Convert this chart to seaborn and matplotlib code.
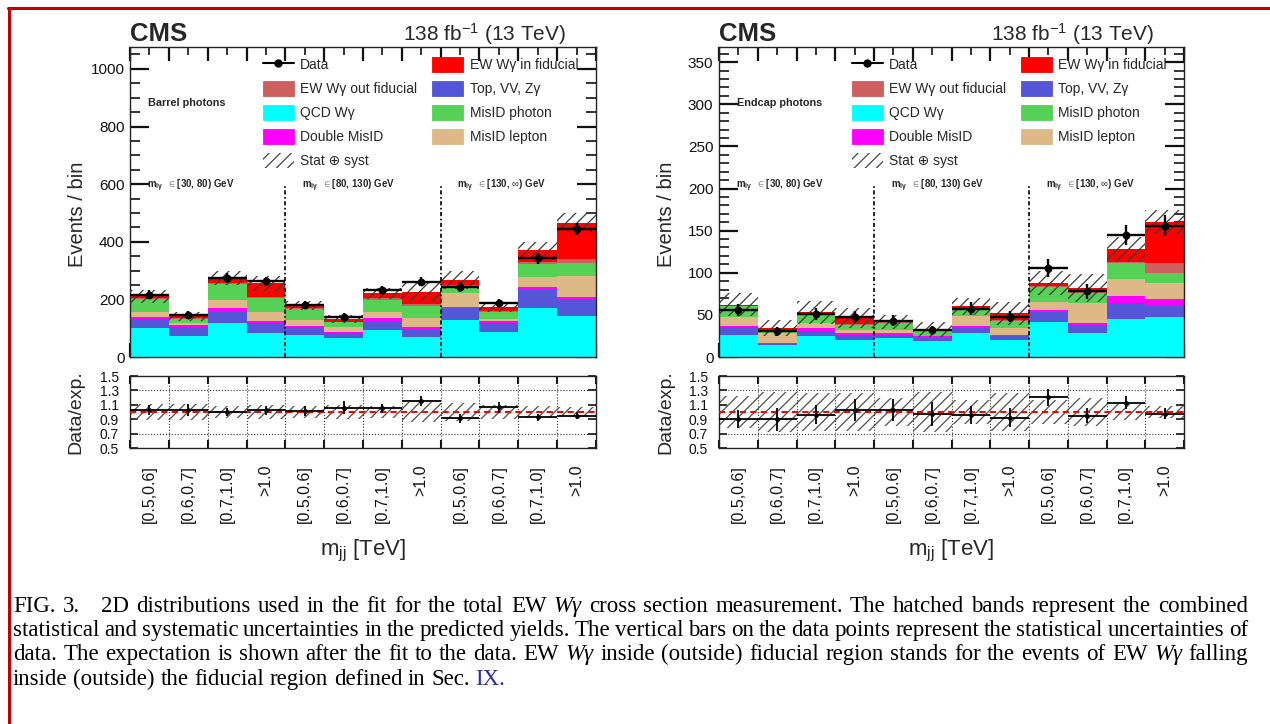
import numpy as np
import pandas as pd
import matplotlib
matplotlib.use("Agg")
import matplotlib.pyplot as plt
import matplotlib.transforms as mtransforms
from matplotlib.lines import Line2D
from matplotlib.patches import Patch
from matplotlib.ticker import MultipleLocator
import seaborn as sns

# ---------------------------------------------------------------- bins
mjj_labels = ["[0.5,0.6]", "[0.6,0.7]", "[0.7,1.0]", ">1.0"] * 3
mlg_ranges = [r"$\in$[30, 80) GeV", r"$\in$[80, 130) GeV", r"$\in$[130, $\infty$) GeV"]

# processes, listed from the top of the stack down
processes = ["EW Wγ in fiducial", "EW Wγ out fiducial", "MisID photon",
             "MisID lepton", "Double MisID", "Top, VV, Zγ", "QCD Wγ"]
proc_colors = ["#ff0000", "#cd5f5f", "#55d155", "#deb887",
               "#ff00ff", "#5555d8", "#00ffff"]

# ------------------------------------------------------- barrel photons
barrel_ew_in = [6, 7, 15, 47, 7, 8, 17, 44, 17, 14, 42, 127]
barrel_ew_out = [4, 4, 6, 5, 6, 3, 6, 5, 6, 4, 7, 14]
barrel_misid_photon = [43, 14, 54, 47, 37, 17, 41, 44, 23, 26, 43, 44]
barrel_misid_lepton = [18, 6, 29, 32, 19, 17, 20, 29, 46, 6, 37, 72]
barrel_double_misid = [7, 8, 12, 8, 6, 4, 12, 11, 6, 8, 9, 11]
barrel_top_vv = [32, 30, 38, 35, 27, 17, 31, 23, 41, 29, 62, 56]
barrel_qcd = [100, 73, 119, 82, 76, 65, 94, 71, 128, 88, 171, 142]
barrel_data = [216, 146, 273, 263, 180, 139, 232, 262, 243, 186, 343, 443]
barrel_data_err = [15, 12, 17, 16, 13, 12, 15, 16, 16, 14, 19, 21]
barrel_rel_unc = [0.11, 0.11, 0.09, 0.10, 0.09, 0.10, 0.09, 0.14, 0.12, 0.10, 0.08, 0.07]

# ------------------------------------------------------- endcap photons
endcap_ew_in = [1, 1.6, 2, 7, 1, 1.4, 2.3, 8, 3.5, 4.2, 16, 48.5]
endcap_ew_out = [1, 0.8, 1, 1, 1, 0.6, 0.7, 1, 1.5, 1.3, 1.3, 11.5]
endcap_misid_photon = [12, 3, 10, 5.5, 7.5, 5, 8, 8.5, 18, 12.5, 18, 12]
endcap_misid_lepton = [11, 12, 6, 3.5, 4, 1, 12.5, 8, 9, 23.5, 21, 19]
endcap_double_misid = [1.5, 0.8, 3, 2.5, 2, 2, 2, 1.2, 3, 4, 8, 9]
endcap_top_vv = [9, 1.2, 6, 6, 4, 3, 6, 4.8, 11, 8, 19, 13]
endcap_qcd = [26.5, 14.6, 25, 20.5, 22.5, 19.4, 28.5, 20.5, 42, 28.5, 45, 47]
endcap_data = [56, 30.5, 51, 47.5, 43, 31.6, 57.5, 48, 106, 78, 145, 156]
endcap_data_err = [7.5, 5.5, 7, 7, 6.5, 5.5, 7.5, 7, 10.5, 9, 12, 12.5]
endcap_rel_unc = [0.22, 0.28, 0.26, 0.26, 0.20, 0.28, 0.17, 0.26, 0.16, 0.20, 0.11, 0.09]

caption_lines = [
    "FIG. 3.|2D distributions used in the fit for the total EW _Wγ_ cross section measurement. "
    "The hatched bands represent the combined",
    "statistical and systematic uncertainties in the predicted yields. The vertical bars on the "
    "data points represent the statistical uncertainties of",
    "data. The expectation is shown after the fit to the data. EW _Wγ_ inside (outside) fiducial "
    "region stands for the events of EW _Wγ_ falling",
    "inside (outside) the fiducial region defined in Sec. ~IX.",
]

# ---------------------------------------------------------------- style
sns.set_theme(style="ticks")
plt.rcParams.update({
    "font.family": ["Liberation Sans", "DejaVu Sans"],
    "mathtext.fontset": "custom",
    "mathtext.rm": "Liberation Sans",
    "mathtext.it": "Liberation Sans:italic",
    "mathtext.bf": "Liberation Sans:bold",
    "hatch.linewidth": 0.9,
    "axes.linewidth": 1.0,
    "axes.edgecolor": "#222222",
    "xtick.color": "#111111",
    "ytick.color": "#111111",
})

W, H = 1270, 724
fig = plt.figure(figsize=(W / 100, H / 100), dpi=100)
fig.patch.set_facecolor("white")


def px_axes(x0, x1, y_top, y_bot):
    return fig.add_axes([x0 / W, 1 - y_bot / H, (x1 - x0) / W, (y_bot - y_top) / H])


color_of = dict(zip(processes, proc_colors))
n_bins = len(mjj_labels)
edges = np.arange(n_bins + 1)
centers = edges[:-1] + 0.5


def step_ext(values):
    values = np.asarray(values, dtype=float)
    return np.append(values, values[-1])


def draw_region(ax, rax, stacks, data, data_err, rel_unc, region_name,
                ymax, major, minor, divider_top):
    data = np.asarray(data, dtype=float)
    data_err = np.asarray(data_err, dtype=float)
    rel_unc = np.asarray(rel_unc, dtype=float)

    df = pd.DataFrame({
        "bin": np.tile(centers, len(processes)),
        "events": np.concatenate([np.asarray(stacks[p], float) for p in processes]),
        "process": np.repeat(processes, n_bins),
    })
    sns.histplot(data=df, x="bin", weights="events", hue="process",
                 hue_order=processes, palette=color_of, multiple="stack",
                 bins=[float(e) for e in edges], element="step", fill=True,
                 alpha=1, linewidth=0, legend=False, ax=ax)
    total = np.sum([np.asarray(stacks[p], float) for p in processes], axis=0)

    # stat (+) syst band on the prediction
    ax.fill_between(edges, step_ext(total * (1 - rel_unc)), step_ext(total * (1 + rel_unc)),
                    step="post", facecolor="none", edgecolor="#3a3a3a",
                    hatch="///", linewidth=0, zorder=3)

    # data
    ax.errorbar(centers, data, yerr=data_err, xerr=0.5, fmt="none",
                ecolor="black", elinewidth=1.7, capsize=0, zorder=5)
    sns.scatterplot(x=centers, y=data, color="black", s=32, linewidth=0,
                    ax=ax, zorder=6, legend=False)

    # m_lgamma category separators
    ax.vlines([4, 8], 0, divider_top, colors="black",
              linestyles=(0, (2.5, 1.5, 1, 1.5)), linewidth=1.2, zorder=4)

    blend = mtransforms.blended_transform_factory(ax.transData, ax.transAxes)
    for i, rng in enumerate(mlg_ranges):
        ax.text(4 * i + 0.43, 0.552, r"$\mathregular{m_{l\gamma}}$  " + rng,
                transform=blend, fontsize=7, fontweight="bold", va="center")
    ax.text(0.038, 0.82, region_name, transform=ax.transAxes, fontsize=7.8,
            fontweight="bold", va="center")

    ax.set_xlim(0, n_bins)
    ax.set_ylim(0, ymax)
    ax.set_xticks(edges)
    ax.set_xticks(centers, minor=True)
    ax.yaxis.set_major_locator(MultipleLocator(major))
    ax.yaxis.set_minor_locator(MultipleLocator(minor))
    ax.tick_params(axis="both", which="both", direction="in", top=True,
                   right=True, labelbottom=False)
    ax.tick_params(axis="y", which="major", length=14, width=1.6, labelsize=11, pad=4)
    ax.tick_params(axis="y", which="minor", length=7, width=1.2)
    ax.tick_params(axis="x", which="major", length=10, width=1.6)
    ax.tick_params(axis="x", which="minor", length=6, width=1.2)
    ax.set_xlabel("")
    ax.set_ylabel("Events / bin", fontsize=14.5)
    ax.yaxis.set_label_coords(-0.092, 0.46)

    ax.text(0.0, 1.02, "CMS", transform=ax.transAxes, fontsize=18.5,
            fontweight="bold", va="baseline", ha="left")
    ax.text(0.936, 1.02, r"138 fb$^{-1}$ (13 TeV)", transform=ax.transAxes,
            fontsize=15, va="baseline", ha="right")

    # legend: two columns, filled column by column
    patch = {p: Patch(facecolor=color_of[p], edgecolor=color_of[p], linewidth=0.6)
             for p in processes}
    data_h = Line2D([], [], color="black", marker="o", markersize=5, linewidth=1.5)
    band_h = Patch(facecolor="white", edgecolor="#444444", hatch="///", linewidth=0)
    entries = [
        (data_h, "Data"),
        (patch["EW Wγ out fiducial"], "EW Wγ out fiducial"),
        (patch["QCD Wγ"], "QCD Wγ"),
        (patch["Double MisID"], "Double MisID"),
        (band_h, "Stat ⊕ syst"),
        (patch["EW Wγ in fiducial"], "EW Wγ in fiducial"),
        (patch["Top, VV, Zγ"], "Top, VV, Zγ"),
        (patch["MisID photon"], "MisID photon"),
        (patch["MisID lepton"], "MisID lepton"),
    ]
    ax.legend([e[0] for e in entries], [e[1] for e in entries], ncol=2,
              loc="upper left", bbox_to_anchor=(0.285, 0.968), frameon=False,
              fontsize=10, handlelength=2.25, handleheight=1.3,
              handletextpad=0.45, columnspacing=1.05, labelspacing=0.63,
              borderpad=0, borderaxespad=0)

    # ratio panel
    ratio = data / total
    ratio_err = data_err / total
    rax.fill_between(edges, step_ext(1 - rel_unc), step_ext(1 + rel_unc), step="post",
                     facecolor="none", edgecolor="#505050", hatch="///",
                     linewidth=0, zorder=2)
    rax.axhline(1.0, color="red", linestyle=(0, (3, 2)), linewidth=1.5, zorder=3)
    for yv in (0.7, 1.3):
        rax.axhline(yv, color="#333333", linestyle=":", linewidth=0.8, zorder=1)
    for xv in edges[1:-1]:
        rax.axvline(xv, color="#333333", linestyle=":", linewidth=0.8, zorder=1)
    rax.errorbar(centers, ratio, yerr=ratio_err, xerr=0.5, fmt="none",
                 ecolor="black", elinewidth=1.3, capsize=0, zorder=5)
    sns.scatterplot(x=centers, y=ratio, color="black", s=12, linewidth=0,
                    ax=rax, zorder=6, legend=False)
    rax.set_xlim(0, n_bins)
    rax.set_ylim(0.5, 1.5)
    rax.set_yticks([0.5, 0.7, 0.9, 1.1, 1.3, 1.5])
    rax.set_yticklabels(["0.5", "0.7", "0.9", "1.1", "1.3", "1.5"])
    rax.set_xticks(edges)
    rax.set_xticklabels([])
    rax.set_xticks(centers, minor=True)
    rax.set_xticklabels(mjj_labels, minor=True, rotation=90, fontsize=11.5)
    rax.tick_params(axis="both", which="both", direction="in", top=True, right=True)
    rax.tick_params(axis="x", which="major", length=6, width=1.5)
    rax.tick_params(axis="x", which="minor", length=0, pad=12)
    rax.tick_params(axis="y", which="major", length=6, width=1.2, labelsize=10, pad=8)
    rax.set_ylabel("Data/exp.", fontsize=14)
    rax.yaxis.set_label_coords(-0.097, 0.5)
    rax.set_xlabel(r"$\mathregular{m_{jj}}$ [TeV]", fontsize=16)
    rax.xaxis.set_label_coords(0.5, -1.25)


barrel = dict(zip(processes, [barrel_ew_in, barrel_ew_out, barrel_misid_photon,
                              barrel_misid_lepton, barrel_double_misid,
                              barrel_top_vv, barrel_qcd]))
endcap = dict(zip(processes, [endcap_ew_in, endcap_ew_out, endcap_misid_photon,
                              endcap_misid_lepton, endcap_double_misid,
                              endcap_top_vv, endcap_qcd]))

ax_b = px_axes(130, 596, 47, 357)
rax_b = px_axes(130, 596, 376, 448)
ax_e = px_axes(719, 1184, 47, 357)
rax_e = px_axes(719, 1184, 376, 448)

draw_region(ax_b, rax_b, barrel, barrel_data, barrel_data_err, barrel_rel_unc,
            "Barrel photons", 1076, 200, 50, 600)
draw_region(ax_e, rax_e, endcap, endcap_data, endcap_data_err, endcap_rel_unc,
            "Endcap photons", 368, 50, 10, 205)

# page frame
fig.add_artist(Line2D([8 / W, 1.0], [1 - 8 / H, 1 - 8 / H], transform=fig.transFigure,
                      color="#c00000", linewidth=2.2))
fig.add_artist(Line2D([9 / W, 9 / W], [0.0, 1 - 8 / H], transform=fig.transFigure,
                      color="#c00000", linewidth=2.2))

# caption, set word by word and justified between the margins
serif = ["Liberation Serif", "DejaVu Serif"]
cap_size = 16.5
renderer = fig.canvas.get_renderer()
left_px, right_px = 13, 1248
baselines = [612, 636, 660, 685]
for li, line in enumerate(caption_lines):
    justify = li < len(caption_lines) - 1
    tokens = line.replace("|", " | ").split()
    words = []
    for tok in tokens:
        if tok == "|":
            words[-1][3] += 14
            continue
        style, color = "normal", "black"
        if tok.startswith("_") and "_" in tok[1:]:
            tail = tok[tok.rindex("_") + 1:]
            style = "italic"
            tok = tok[1:tok.rindex("_")]
            if tail:
                words.append([tok, style, color, 0.0])
                tok, style = tail, "normal"
        if tok.startswith("~"):
            tok, color = tok[1:], "#2b2ba8"
        words.append([tok, style, color, 0.0])
    artists = []
    for w, style, color, _ in words:
        t = fig.text(0, 1 - baselines[li] / H, w, fontsize=cap_size, family=serif,
                     fontstyle=style, color=color, va="baseline", ha="left")
        artists.append(t)
    widths = [a.get_window_extent(renderer).width for a in artists]
    extras = [w[3] for w in words]
    natural_gap = 0.25 * cap_size * 100 / 72
    if justify and len(words) > 1:
        gap = (right_px - left_px - sum(widths) - sum(extras)) / (len(words) - 1)
    else:
        gap = natural_gap
    x = left_px
    for a, wd, ex in zip(artists, widths, extras):
        a.set_x(x / W)
        x += wd + gap + ex

fig.savefig("out.png", dpi=100, facecolor="white")
